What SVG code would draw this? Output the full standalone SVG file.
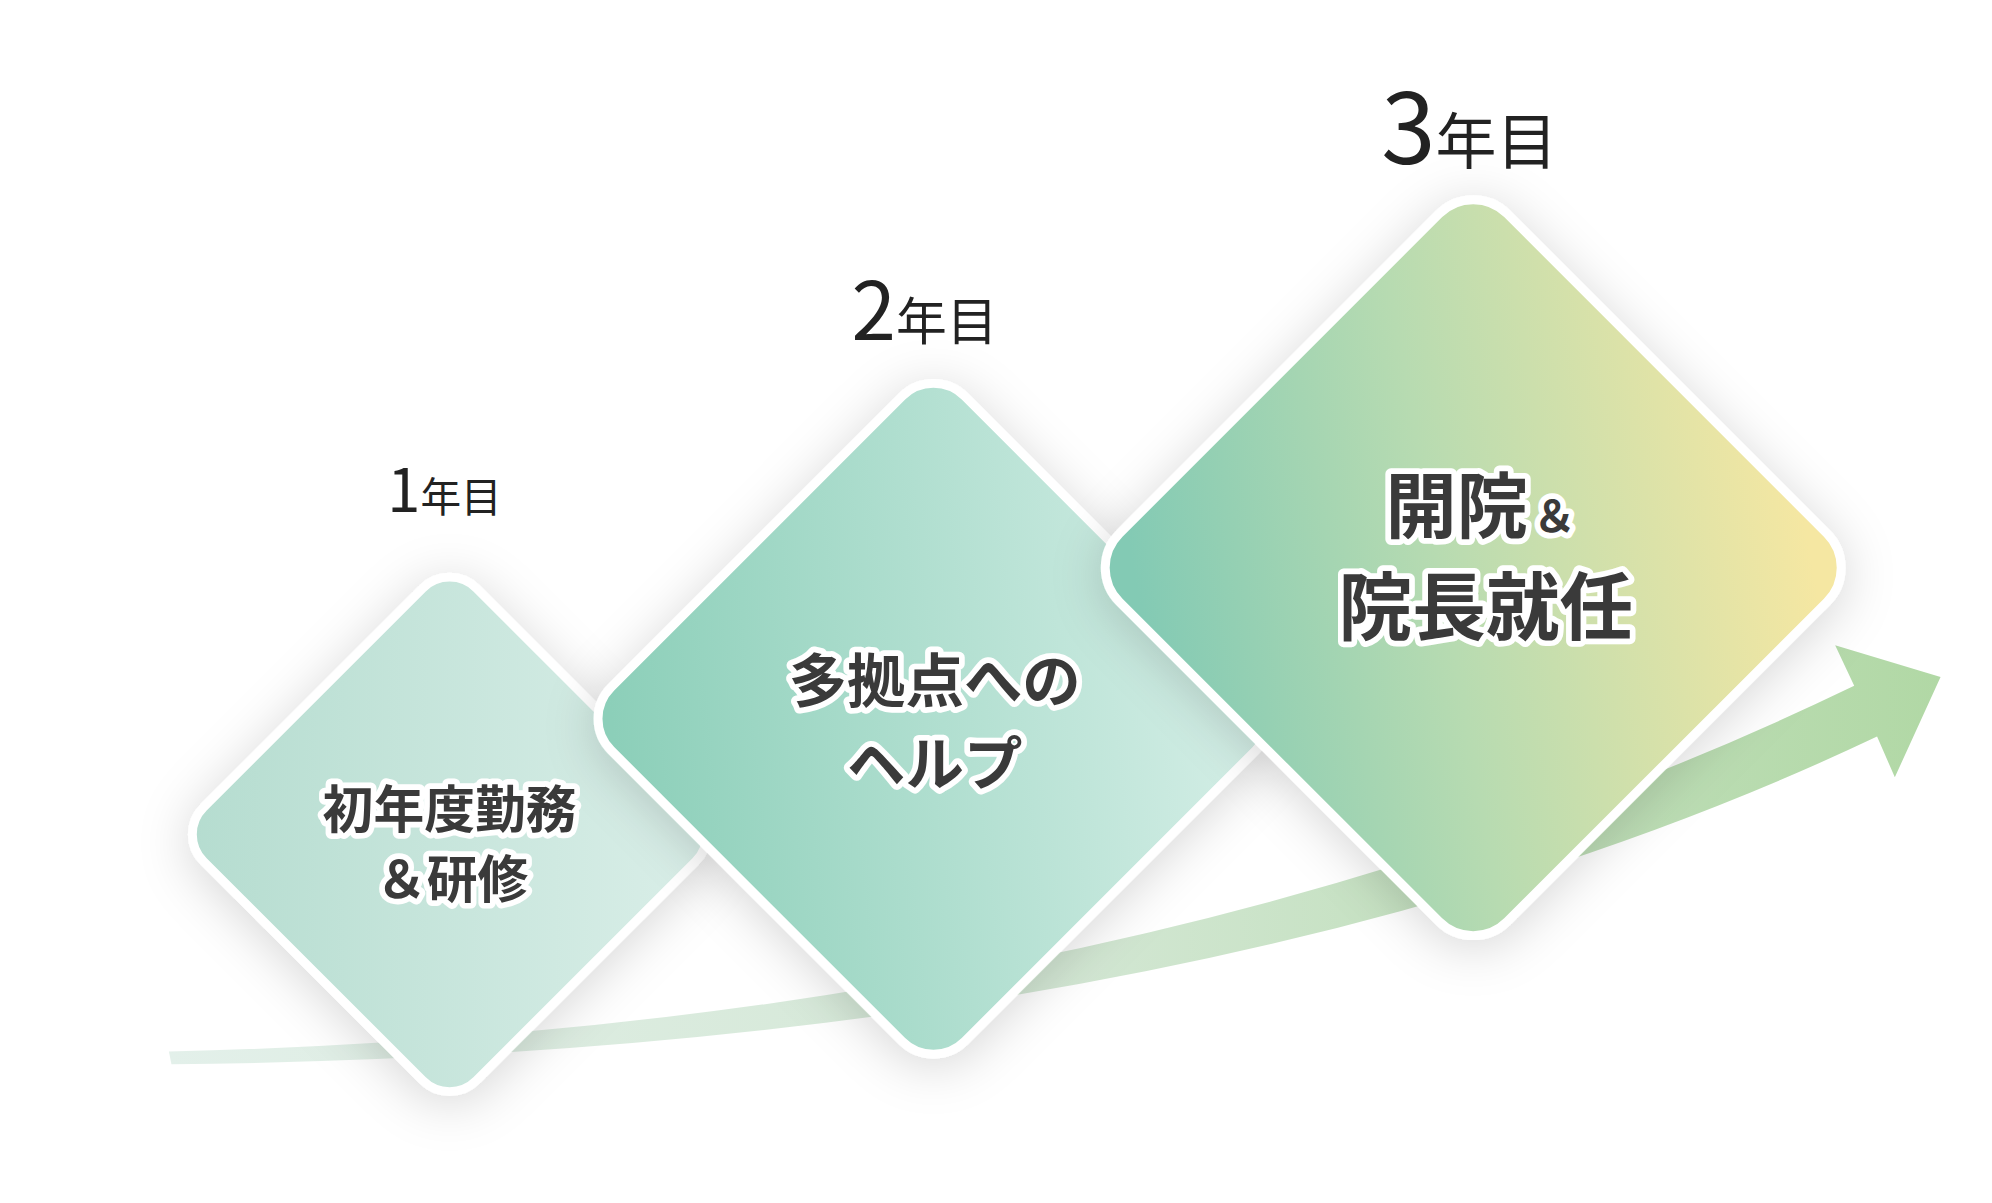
<svg xmlns="http://www.w3.org/2000/svg" width="1992" height="1203" viewBox="0 0 1992 1203">
<defs>
  <style>
    .yr { font-family: "Noto Sans CJK JP", "Noto Sans", sans-serif; font-weight: 400; fill: #222222; }
    .lbl { font-family: "Noto Sans CJK JP", "Noto Sans", sans-serif; font-weight: 700; fill: #3a3a3a; stroke: #ffffff; stroke-width: 9; stroke-linejoin: round; paint-order: stroke fill; text-anchor: middle; }
    .dia { stroke: #ffffff; stroke-width: 7; }
  </style>
  <filter id="shadow" x="-40%" y="-40%" width="180%" height="180%">
    <feDropShadow dx="0" dy="6" stdDeviation="20" flood-color="#000000" flood-opacity="0.16"/>
  </filter>
  <linearGradient id="g1" x1="0" y1="1" x2="1" y2="0">
    <stop offset="0" stop-color="#b4dccf"/>
    <stop offset="1" stop-color="#dbefe9"/>
  </linearGradient>
  <linearGradient id="g2" x1="0.1" y1="1" x2="0.9" y2="0">
    <stop offset="0" stop-color="#8ccfb9"/>
    <stop offset="1" stop-color="#d4eee6"/>
  </linearGradient>
  <linearGradient id="g3" x1="0.15" y1="1" x2="0.85" y2="0">
    <stop offset="0" stop-color="#83cab4"/>
    <stop offset="0.45" stop-color="#b7dbb1"/>
    <stop offset="1" stop-color="#f5e7a2"/>
  </linearGradient>
  <linearGradient id="gband" gradientUnits="userSpaceOnUse" x1="133" y1="0" x2="1528" y2="0">
    <stop offset="0" stop-color="#e3f0ea"/>
    <stop offset="0.5" stop-color="#d3e7d4"/>
    <stop offset="1" stop-color="#b1d8a5"/>
  </linearGradient>
</defs>
<rect width="1992" height="1203" fill="#ffffff"/>
<g transform="scale(1.27)">
  <g id="connectors">
    <path d="M133,828 Q900,810 1460,540 L1445,508 L1528,533 L1492,612 L1478,580 Q950,830 135,838 Z" fill="url(#gband)"/>
  </g>
  <g id="node-year1">
    <g filter="url(#shadow)">
      <rect class="dia" x="-152" y="-152" width="304" height="304" rx="30" fill="url(#g1)" transform="translate(354,657) rotate(45)"/>
    </g>
    <text class="lbl" font-size="40"><tspan x="354" y="652">初年度勤務</tspan><tspan x="356" y="707">＆研修</tspan></text>
    <text class="yr" x="350" y="403" text-anchor="middle"><tspan font-size="47">1</tspan><tspan font-size="32">年目</tspan></text>
  </g>
  <g id="node-year2">
    <g filter="url(#shadow)">
      <rect class="dia" x="-197" y="-197" width="394" height="394" rx="35" fill="url(#g2)" transform="translate(735,566) rotate(45)"/>
    </g>
    <text class="lbl" font-size="46"><tspan x="736" y="553">多拠点への</tspan><tspan x="736" y="618">ヘルプ</tspan></text>
    <text class="yr" x="728" y="268" text-anchor="middle"><tspan font-size="63">2</tspan><tspan font-size="40">年目</tspan></text>
  </g>
  <g id="node-year3">
    <g filter="url(#shadow)">
      <rect class="dia" x="-216" y="-216" width="432" height="432" rx="38" fill="url(#g3)" transform="translate(1160,447) rotate(45)"/>
    </g>
    <text class="lbl" font-size="56"><tspan x="1166" y="419">開院<tspan font-size="34" dx="4">＆</tspan></tspan><tspan x="1170" y="499" font-size="58">院長就任</tspan></text>
    <text class="yr" x="1157" y="129" text-anchor="middle"><tspan font-size="77">3</tspan><tspan font-size="48">年目</tspan></text>
  </g>
</g>
</svg>
